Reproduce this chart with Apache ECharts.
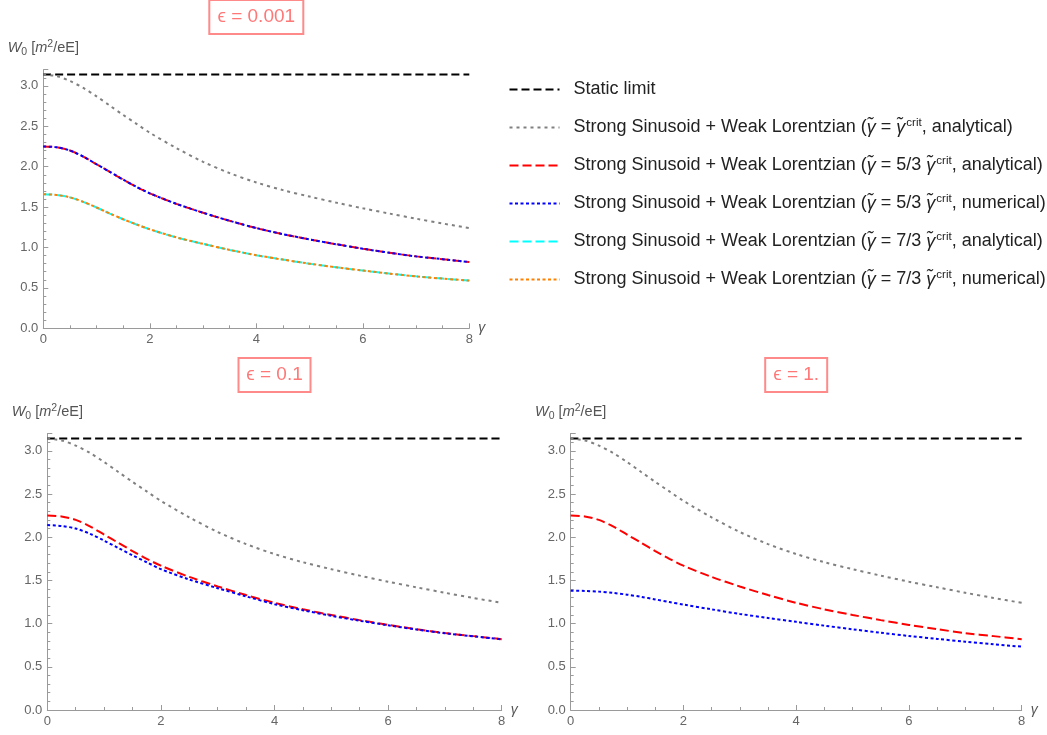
<!DOCTYPE html>
<html>
<head>
<meta charset="utf-8">
<script src="https://cdn.jsdelivr.net/npm/echarts@6/dist/echarts.min.js"></script>
<style>
  html, body { margin: 0; padding: 0; background: #fff; }
  #main { width: 1047px; height: 735px; }
</style>
</head>
<body>
<div id="main"></div>
<script>
  // gamma grid the curves were read at (denser near the rounded top)
  var gamma = [0, 0.25, 0.5, 0.75, 1, 1.25, 1.5, 1.75, 2, 2.5, 3, 3.5, 4, 4.5, 5, 5.5, 6, 6.5, 7, 7.5, 8];
  var staticLimit = 3.1416;

  // same in all three panels
  var wCrit = [3.14, 3.12, 3.06, 2.975, 2.87, 2.755, 2.64, 2.53, 2.42, 2.23, 2.06, 1.92, 1.805, 1.71, 1.63, 1.555, 1.485, 1.42, 1.357, 1.297, 1.24];
  var w53Ana = [2.25, 2.24, 2.20, 2.125, 2.03, 1.935, 1.84, 1.75, 1.67, 1.54, 1.43, 1.33, 1.24, 1.165, 1.10, 1.04, 0.985, 0.935, 0.89, 0.855, 0.82];
  var w73Ana = [1.66, 1.65, 1.62, 1.565, 1.495, 1.42, 1.35, 1.285, 1.225, 1.125, 1.045, 0.97, 0.905, 0.85, 0.80, 0.755, 0.715, 0.677, 0.643, 0.615, 0.59];

  // numerical results per epsilon
  var w53NumEps0001 = [2.25, 2.24, 2.20, 2.125, 2.03, 1.935, 1.84, 1.75, 1.67, 1.54, 1.43, 1.33, 1.24, 1.165, 1.10, 1.04, 0.985, 0.935, 0.89, 0.855, 0.82];
  var w73NumEps0001 = [1.66, 1.65, 1.62, 1.565, 1.495, 1.42, 1.35, 1.285, 1.225, 1.125, 1.045, 0.97, 0.905, 0.85, 0.80, 0.755, 0.715, 0.677, 0.643, 0.615, 0.59];
  var w53NumEps01 = [2.14, 2.13, 2.10, 2.04, 1.96, 1.875, 1.79, 1.71, 1.63, 1.51, 1.41, 1.315, 1.225, 1.155, 1.09, 1.033, 0.98, 0.932, 0.888, 0.853, 0.818];
  var w53NumEps1 = [1.38, 1.378, 1.37, 1.355, 1.335, 1.31, 1.28, 1.25, 1.22, 1.165, 1.112, 1.065, 1.02, 0.976, 0.934, 0.894, 0.857, 0.823, 0.791, 0.761, 0.733];

  var panelTitles = ['\u03f5 = 0.001', '\u03f5 = 0.1', '\u03f5 = 1.'];
  var xTicks = [0, 2, 4, 6, 8];

  var names = ['Static limit', 'crit', '53a', '53n', '73a', '73n'];
  var legendLabels = [
    'Static limit',
    'Strong Sinusoid + Weak Lorentzian ({g|\u03b3\u0303} = {g|\u03b3\u0303}{sup|crit}, analytical)',
    'Strong Sinusoid + Weak Lorentzian ({g|\u03b3\u0303} = 5/3 {g|\u03b3\u0303}{sup|crit}, analytical)',
    'Strong Sinusoid + Weak Lorentzian ({g|\u03b3\u0303} = 5/3 {g|\u03b3\u0303}{sup|crit}, numerical)',
    'Strong Sinusoid + Weak Lorentzian ({g|\u03b3\u0303} = 7/3 {g|\u03b3\u0303}{sup|crit}, analytical)',
    'Strong Sinusoid + Weak Lorentzian ({g|\u03b3\u0303} = 7/3 {g|\u03b3\u0303}{sup|crit}, numerical)'
  ];

  var FONT = 'Liberation Sans, Arial, sans-serif';
  var chart = echarts.init(document.getElementById('main'));

  function pts(vals) {
    return gamma.map(function (g, i) { return [g, vals[i]]; });
  }

  var styles = {
    'Static limit': { color: '#000000', type: [8, 4] },
    'crit': { color: '#808080', type: [3, 4] },
    '53a': { color: '#ff0000', type: [9, 4] },
    '53n': { color: '#0000ff', type: [3, 2.5] },
    '73a': { color: '#00ffff', type: [9, 4] },
    '73n': { color: '#ff8000', type: [3, 2.5] }
  };

  function line(name, idx, data) {
    var s = styles[name];
    return {
      name: name,
      type: 'line',
      xAxisIndex: idx,
      yAxisIndex: idx,
      data: data,
      smooth: 0.3,
      symbol: 'none',
      color: s.color,
      lineStyle: { color: s.color, width: 2, type: s.type },
      z: 2
    };
  }

  var grids = [
    { left: 43.3, top: 69.7, width: 426, height: 258.6 },
    { left: 47.3, top: 433.5, width: 454.4, height: 276.5 },
    { left: 570.7, top: 433.5, width: 451, height: 276.5 }
  ];

  var axisColor = '#9a9a9a';
  var labelColor = '#666666';

  var xAxes = grids.map(function (g, i) {
    return {
      type: 'value', gridIndex: i, min: 0, max: 8, interval: 2,
      name: '\u03b3', nameLocation: 'end', nameGap: 9,
      nameTextStyle: { color: '#555', fontStyle: 'italic', fontSize: 14, fontFamily: FONT, verticalAlign: 'middle', padding: [2, 0, 0, 0] },
      axisLine: { lineStyle: { color: axisColor, width: 1 } },
      axisTick: { inside: true, length: 5, lineStyle: { color: axisColor } },
      minorTick: { show: true, splitNumber: 4, length: 3, lineStyle: { color: axisColor } },
      splitLine: { show: false },
      axisLabel: {
        color: labelColor, fontSize: 13, fontFamily: FONT, margin: 5,
        formatter: function (v) { return xTicks.indexOf(v) >= 0 ? String(v) : ''; }
      }
    };
  });

  var yAxes = grids.map(function (g, i) {
    return {
      type: 'value', gridIndex: i, min: 0, max: 3.2, interval: 0.5,
      name: '{i|W}{sub|0} [{i|m}{sup|2}/eE]', nameLocation: 'end', nameGap: 12,
      nameTextStyle: {
        color: '#555', fontSize: 14.5, fontFamily: FONT,
        rich: {
          i: { fontStyle: 'italic', fontSize: 14.5, color: '#555', fontFamily: FONT },
          sub: { fontSize: 10.5, color: '#555', padding: [8, 0, 0, 0], fontFamily: FONT },
          sup: { fontSize: 10.5, color: '#555', padding: [0, 0, 8, 0], fontFamily: FONT }
        }
      },
      axisLine: { show: true, lineStyle: { color: axisColor, width: 1 } },
      axisTick: { show: true, inside: true, length: 5, lineStyle: { color: axisColor } },
      minorTick: { show: true, splitNumber: 5, length: 3, lineStyle: { color: axisColor } },
      splitLine: { show: false },
      axisLabel: {
        color: labelColor, fontSize: 13, fontFamily: FONT, margin: 5, showMaxLabel: false,
        formatter: function (v) { return v.toFixed(1); }
      }
    };
  });

  var titleCenters = [248.3, 266.5, 788.2];
  var titleTops = [0, 358, 358];
  var titles = panelTitles.map(function (t, i) {
    return {
      text: t, left: titleCenters[i], top: titleTops[i], textAlign: 'center',
      borderColor: '#ff8a8a', borderWidth: 2, padding: [6, 8, 6, 8],
      textStyle: { color: '#ff7878', fontSize: 19, fontWeight: 'normal', fontFamily: FONT, lineHeight: 22 }
    };
  });

  var staticData = [[0, staticLimit], [8, staticLimit]];
  var series = [
    line('Static limit', 0, staticData),
    line('crit', 0, pts(wCrit)),
    line('53a', 0, pts(w53Ana)),
    line('53n', 0, pts(w53NumEps0001)),
    line('73a', 0, pts(w73Ana)),
    line('73n', 0, pts(w73NumEps0001)),

    line('Static limit', 1, staticData),
    line('crit', 1, pts(wCrit)),
    line('53a', 1, pts(w53Ana)),
    line('53n', 1, pts(w53NumEps01)),

    line('Static limit', 2, staticData),
    line('crit', 2, pts(wCrit)),
    line('53a', 2, pts(w53Ana)),
    line('53n', 2, pts(w53NumEps1))
  ];

  var option = {
    animation: false,
    backgroundColor: '#ffffff',
    title: titles,
    grid: grids,
    xAxis: xAxes,
    yAxis: yAxes,
    legend: {
      data: names,
      orient: 'vertical',
      left: 503.5,
      top: 74.5,
      itemWidth: 50,
      itemHeight: 14,
      itemGap: 17.5,
      selectedMode: false,
      itemStyle: { opacity: 0 },
      formatter: function (name) { return legendLabels[names.indexOf(name)]; },
      textStyle: {
        color: '#222', fontSize: 18, fontFamily: FONT, lineHeight: 20, padding: [0, 0, 0, 9],
        rich: {
          g: { fontStyle: 'italic', fontSize: 18, color: '#222', fontFamily: FONT, lineHeight: 20 },
          sup: { fontSize: 11.5, color: '#222', fontFamily: FONT, padding: [0, 0, 9, 1] }
        }
      }
    },
    series: series
  };

  chart.setOption(option);
</script>
</body>
</html>
